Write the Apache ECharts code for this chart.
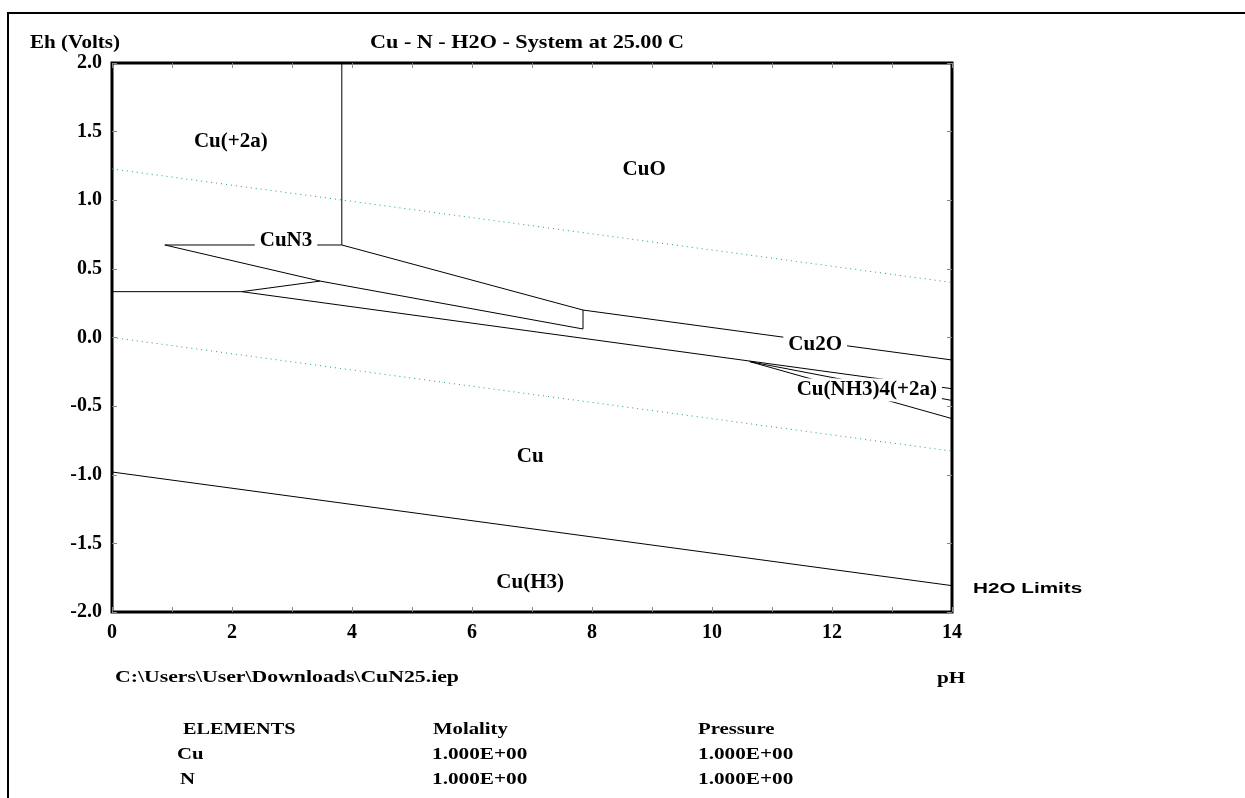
<!DOCTYPE html>
<html><head><meta charset="utf-8">
<script src="https://cdn.jsdelivr.net/npm/echarts@6/dist/echarts.min.js"></script>
<style>html,body{margin:0;padding:0;background:#fff}#c{width:1245px;height:798px}</style>
</head><body><div id="c"></div>
<script>
// ---- axis ticks ----
const phMin = 0, phMax = 14, phStep = 1, phLabelEvery = 2;
const ehMin = -2, ehMax = 2, ehStep = 0.5;

// ---- stability-field boundaries: [pH, Eh] ----
const cu2aCuOVertical   = [[3.83, 2.0], [3.83, 0.674]];
const cuN3Top           = [[0.88, 0.674], [3.83, 0.674]];
const cuOCu2OUpper      = [[3.83, 0.674], [7.85, 0.200]];
const cuOCu2ORight      = [[7.85, 0.200], [14, -0.164]];
const cuN3Step          = [[7.85, 0.200], [7.85, 0.062]];
const cuN3Bottom        = [[0.88, 0.674], [3.47, 0.411], [7.85, 0.062]];
const cu2aCuFlat        = [[0, 0.334], [2.16, 0.334]];
const wedgeEdge         = [[2.16, 0.334], [3.47, 0.411]];
const cuUpperBoundary   = [[2.16, 0.334], [14, -0.373]];
const ammineLower       = [[10.63, -0.176], [14, -0.591]];
const ammineMiddle      = [[10.63, -0.176], [14, -0.459]];
const cuCuH3Boundary    = [[0, -0.98], [14, -1.808]];
// ---- water stability limits (dotted) ----
const waterUpperLimit   = [[0, 1.228], [14, 0.401]];
const waterLowerLimit   = [[0, 0.0], [14, -0.828]];

// ---- region labels ----
const regionNames = ['Cu(+2a)', 'CuO', 'CuN3', 'Cu2O', 'Cu(NH3)4(+2a)', 'Cu', 'Cu(H3)'];
const regionPH    = [1.98, 8.87, 2.90, 11.72, 12.58, 6.97, 6.97];
const regionEh    = [1.424, 1.22, 0.703, -0.055, -0.383, -0.871, -1.789];

// ---- table ----
const elementNames = ['Cu', 'N'];
const elementMolality = ['1.000E+00', '1.000E+00'];
const elementPressure = ['1.000E+00', '1.000E+00'];

const SERIF = '"Liberation Serif","Times New Roman",serif';
const SANS = '"Liberation Sans",Arial,sans-serif';

const solidLines = [cu2aCuOVertical, cuN3Top, cuOCu2OUpper, cuOCu2ORight, cuN3Step, cuN3Bottom,
  cu2aCuFlat, wedgeEdge, cuUpperBoundary, ammineLower, ammineMiddle, cuCuH3Boundary];
const dottedLines = [waterUpperLimit, waterLowerLimit];

const series = [];
solidLines.forEach(d => series.push({
  type: 'line', data: d, symbol: 'none', silent: true, z: 2,
  lineStyle: { color: '#000', width: 1 }
}));
dottedLines.forEach(d => series.push({
  type: 'line', data: d, symbol: 'none', silent: true, z: 2,
  lineStyle: { color: '#1f9a9a', width: 1, type: [1, 4] }
}));
series.push({
  type: 'scatter', symbolSize: 0, silent: true, z: 10,
  itemStyle: { color: '#000', opacity: 1 },
  data: regionNames.map((n, i) => ({ name: n, value: [regionPH[i], regionEh[i]] })),
  label: { show: true, position: 'inside', formatter: '{b}', color: '#000', opacity: 1,
    fontFamily: SERIF, fontWeight: 'bold', fontSize: 21,
    backgroundColor: '#fff', padding: [1, 5] }
});

function txt(text, x, y, size, sx, font) {
  return { type: 'text', x: x, y: y, scaleX: sx, z: 100, silent: true,
    style: { text: text, fill: '#000', font: 'bold ' + size + 'px ' + (font || SERIF),
      textAlign: 'left', textVerticalAlign: 'middle' } };
}
const graphics = [
  { type: 'line', shape: { x1: 7, y1: 13, x2: 1245, y2: 13 }, style: { stroke: '#000', lineWidth: 2 }, z: 100 },
  { type: 'line', shape: { x1: 8, y1: 12, x2: 8, y2: 798 }, style: { stroke: '#000', lineWidth: 2 }, z: 100 },
  txt('Cu - N - H2O - System at 25.00 C', 370, 43, 19, 1.167),
  txt('Eh (Volts)', 30, 43, 19, 1.11),
  txt('C:\\Users\\User\\Downloads\\CuN25.iep', 115, 678, 17, 1.28),
  txt('pH', 937, 679, 17, 1.25),
  txt('ELEMENTS', 183, 730, 17, 1.19),
  txt('Molality', 433, 730, 17, 1.22),
  txt('Pressure', 698, 730, 17, 1.22),
  txt('H2O Limits', 973, 589, 15, 1.38, SANS)
];
elementNames.forEach((n, i) => {
  const y = 755 + i * 25;
  graphics.push(txt(n, n === 'N' ? 180 : 177, y, 17, 1.22));
  graphics.push(txt(elementMolality[i], 432, y, 17, 1.25));
  graphics.push(txt(elementPressure[i], 698, y, 17, 1.25));
});

const tickStyle = { show: true, inside: true, length: 5, lineStyle: { color: '#888', width: 1 } };
const hiddenLine = { show: false, onZero: false };
const chart = echarts.init(document.getElementById('c'), null, { renderer: 'canvas' });
chart.setOption({
  animation: false,
  backgroundColor: '#fff',
  grid: { left: 112, top: 63, width: 840, height: 549, show: true, borderColor: '#000', borderWidth: 3, backgroundColor: 'transparent' },
  xAxis: [
    { type: 'value', min: phMin, max: phMax, interval: phStep, position: 'bottom',
      axisLine: hiddenLine, splitLine: { show: false }, axisTick: tickStyle,
      axisLabel: { margin: 11, color: '#000', fontFamily: SERIF, fontWeight: 'bold', fontSize: 20,
        formatter: v => (v % phLabelEvery === 0 ? String(v) : '') } },
    { type: 'value', min: phMin, max: phMax, interval: phStep, position: 'top',
      axisLine: hiddenLine, splitLine: { show: false }, axisTick: tickStyle, axisLabel: { show: false } }
  ],
  yAxis: [
    { type: 'value', min: ehMin, max: ehMax, interval: ehStep, position: 'left',
      axisLine: hiddenLine, splitLine: { show: false }, axisTick: tickStyle,
      axisLabel: { margin: 10, color: '#000', fontFamily: SERIF, fontWeight: 'bold', fontSize: 20,
        formatter: v => v.toFixed(1) } },
    { type: 'value', min: ehMin, max: ehMax, interval: ehStep, position: 'right',
      axisLine: hiddenLine, splitLine: { show: false }, axisTick: tickStyle, axisLabel: { show: false } }
  ],
  series: series,
  graphic: graphics
});
</script></body></html>
